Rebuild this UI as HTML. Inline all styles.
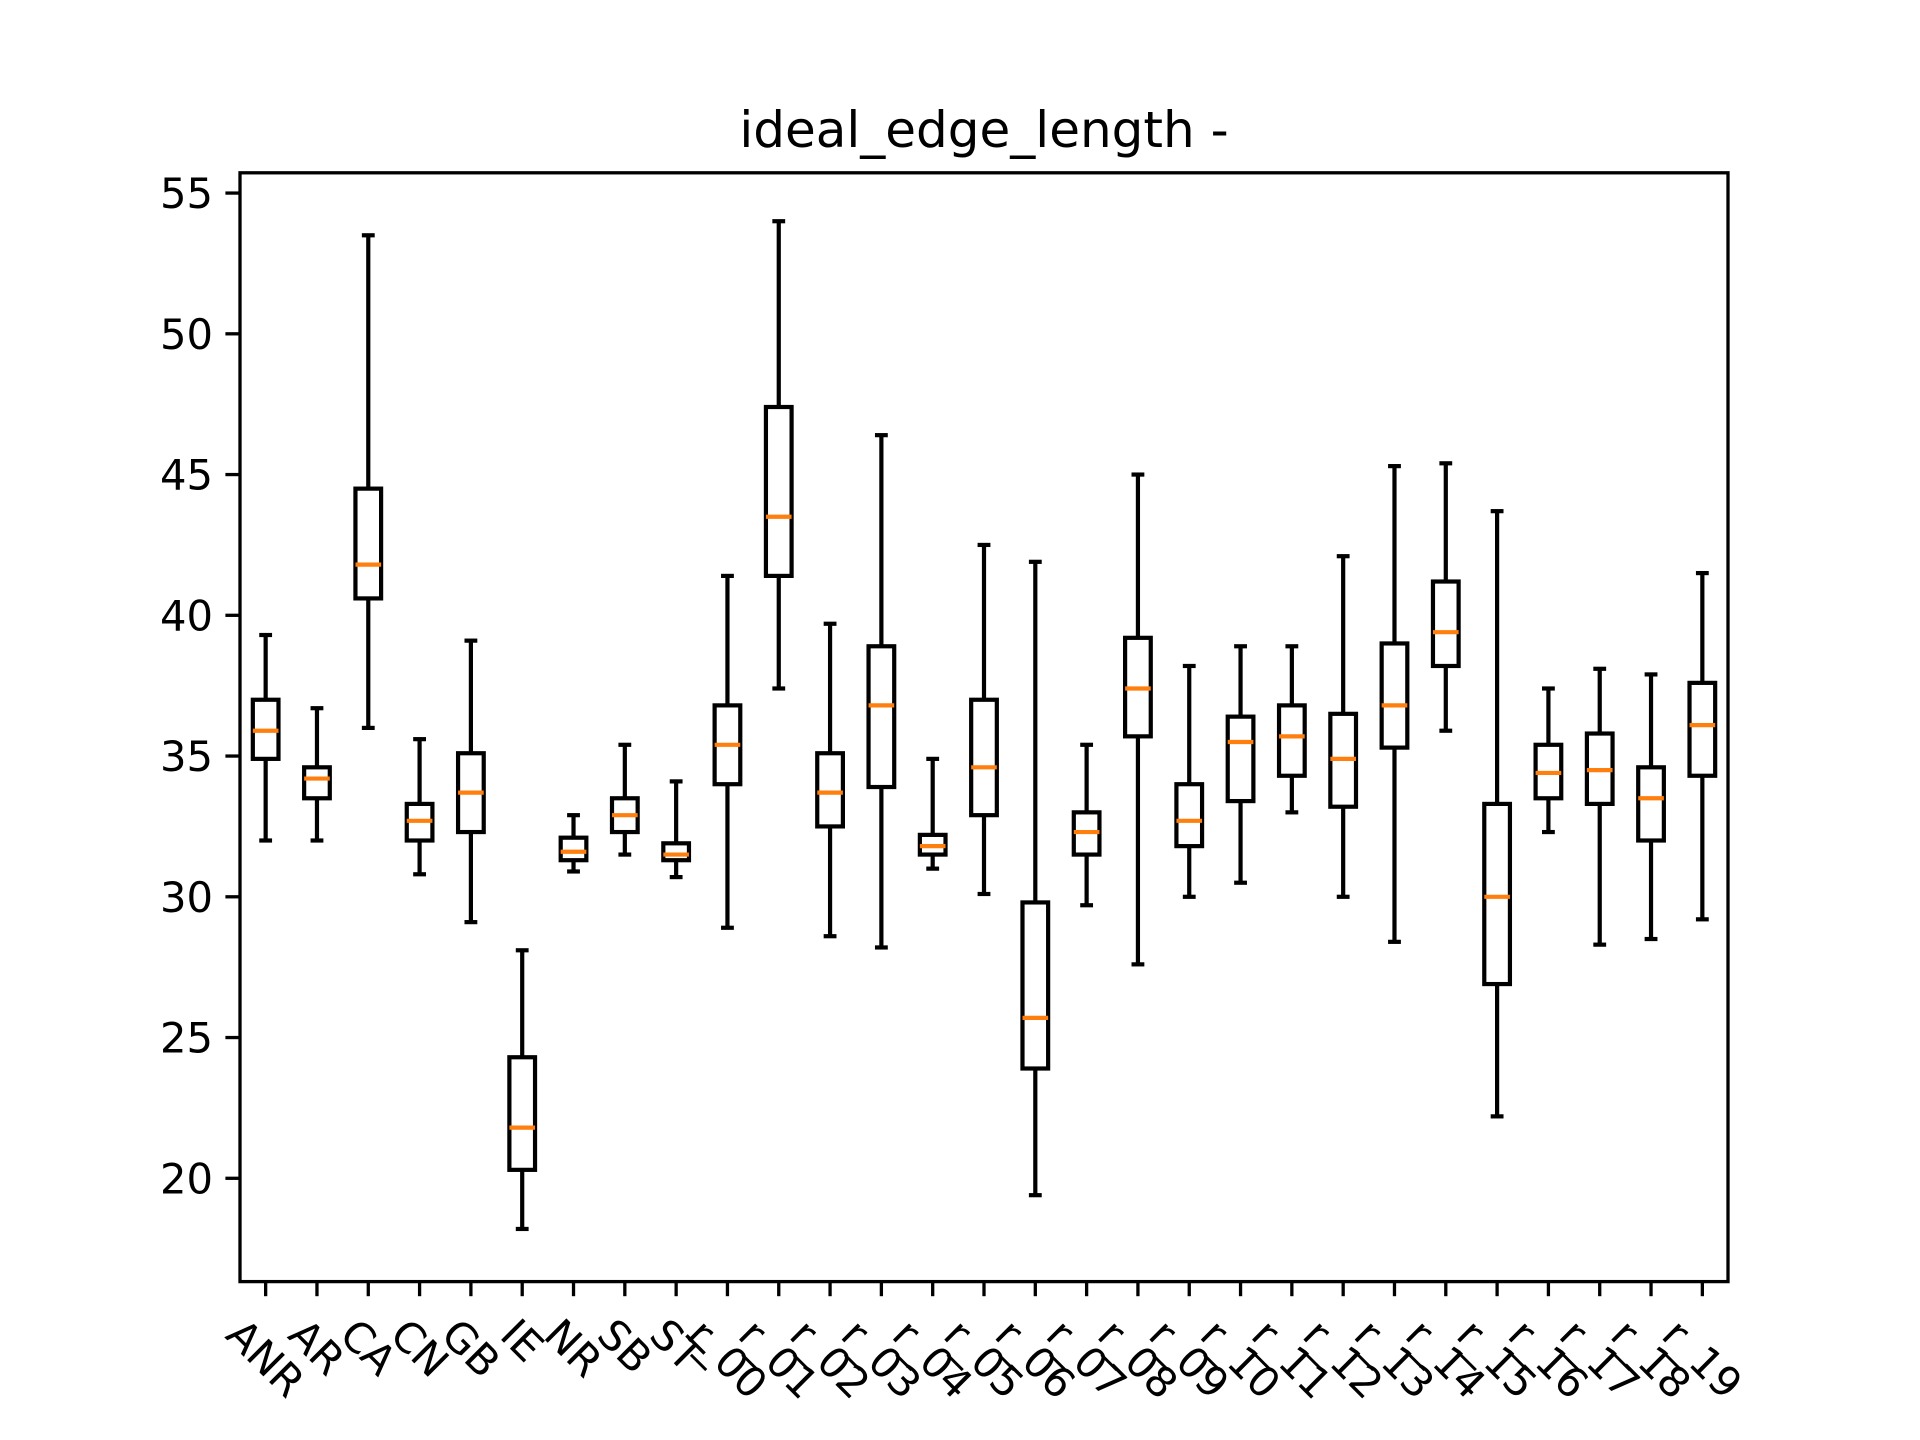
<!DOCTYPE html>
<html><head><meta charset="utf-8"><style>body{margin:0;background:#fff}svg{display:block}</style></head>
<body>
<svg id="chart" width="1920" height="1440" viewBox="0 0 1920 1440" xmlns="http://www.w3.org/2000/svg" font-family="DejaVu Sans, Liberation Sans, sans-serif">
<rect width="1920" height="1440" fill="#fff"/>
<text x="984" y="147" font-size="50" text-anchor="middle">ideal_edge_length -</text>
<g id="marks"></g>
<rect x="240" y="172.8" width="1488" height="1108.8" fill="none" stroke="#000" stroke-width="3.3"/>
<g id="axes"></g>
</svg>
<script>
const categories = ["ANR","AR","CA","CN","GB","IE","NR","SB","ST","r_00","r_01","r_02","r_03","r_04","r_05","r_06","r_07","r_08","r_09","r_10","r_11","r_12","r_13","r_14","r_15","r_16","r_17","r_18","r_19"];
const whiskerLow = [32,32,36,30.8,29.1,18.2,30.9,31.5,30.7,28.9,37.4,28.6,28.2,31,30.1,19.4,29.7,27.6,30,30.5,33,30,28.4,35.9,22.2,32.3,28.3,28.5,29.2];
const q1 = [34.9,33.5,40.6,32,32.3,20.3,31.3,32.3,31.3,34,41.4,32.5,33.9,31.5,32.9,23.9,31.5,35.7,31.8,33.4,34.3,33.2,35.3,38.2,26.9,33.5,33.3,32,34.3];
const medians = [35.9,34.2,41.8,32.7,33.7,21.8,31.6,32.9,31.5,35.4,43.5,33.7,36.8,31.8,34.6,25.7,32.3,37.4,32.7,35.5,35.7,34.9,36.8,39.4,30,34.4,34.5,33.5,36.1];
const q3 = [37,34.6,44.5,33.3,35.1,24.3,32.1,33.5,31.9,36.8,47.4,35.1,38.9,32.2,37,29.8,33,39.2,34,36.4,36.8,36.5,39,41.2,33.3,35.4,35.8,34.6,37.6];
const whiskerHigh = [39.3,36.7,53.5,35.6,39.1,28.1,32.9,35.4,34.1,41.4,54,39.7,46.4,34.9,42.5,41.9,35.4,45,38.2,38.9,38.9,42.1,45.3,45.4,43.7,37.4,38.1,37.9,41.5];
const yTicks = [20,25,30,35,40,45,50,55];

const NS="http://www.w3.org/2000/svg";
const L=240,R=1728,T=172.8,B=1281.6;
const yMin=16.33,yMax=55.72;
const n=categories.length;
const x=i=>L+(i+1-0.5)/n*(R-L);
const y=v=>B-(v-yMin)/(yMax-yMin)*(B-T);
const bw=0.5/n*(R-L);
const marks=document.getElementById('marks'),axes=document.getElementById('axes');
function mk(tag,attrs,parent){const e=document.createElementNS(NS,tag);for(const k in attrs)e.setAttribute(k,attrs[k]);parent.appendChild(e);return e;}
function line(x1,y1,x2,y2,c,w,p){return mk('line',{x1,y1,x2,y2,stroke:c,'stroke-width':w},p);}
for(let i=0;i<n;i++){
  const cx=x(i);
  const g=mk('g',{},marks);
  
  
  line(cx,y(whiskerLow[i]),cx,y(q1[i]),'#000',4.2,g);
  line(cx,y(q3[i]),cx,y(whiskerHigh[i]),'#000',4.2,g);
  line(cx-bw/4,y(whiskerLow[i]),cx+bw/4,y(whiskerLow[i]),'#000',4.2,g);
  line(cx-bw/4,y(whiskerHigh[i]),cx+bw/4,y(whiskerHigh[i]),'#000',4.2,g);
  mk('rect',{x:cx-bw/2,y:y(q3[i]),width:bw,height:y(q1[i])-y(q3[i]),fill:'none',stroke:'#000','stroke-width':4.2},g);
  const m=line(cx-bw/2,y(medians[i]),cx+bw/2,y(medians[i]),'#ff7f0e',4.2,g);
  
  
  const t=line(cx,B,cx,B+14.6,'#000',3.3,axes);
  
  
  const lb=mk('text',{'font-size':41.7,'text-anchor':'middle','dominant-baseline':'central'},axes);
  lb.textContent=categories[i];
  
  
  const len=lb.getComputedTextLength();
  const h=(len+30)*0.7071;
  const ly=B+14.6+20+h/2;
  lb.setAttribute('x',cx);lb.setAttribute('y',ly);
  lb.setAttribute('transform','rotate(45 '+cx+' '+ly+')');
}
yTicks.forEach(v=>{
  const yy=y(v);
  const t=line(L-14.6,yy,L,yy,'#000',3.3,axes);
  
  
  const lb=mk('text',{x:L-27,y:yy+15,'font-size':41.7,'text-anchor':'end'},axes);
  lb.textContent=v;
  
  
});
</script>
</body></html>
